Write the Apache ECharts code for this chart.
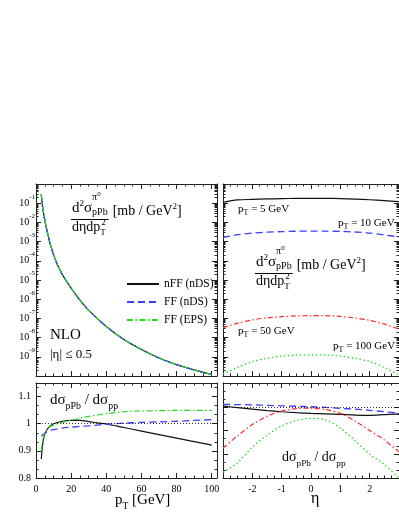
<!DOCTYPE html>
<html>
<head>
<meta charset="utf-8">
<script src="https://cdn.jsdelivr.net/npm/echarts@6/dist/echarts.min.js"></script>
<style>
  html, body { margin: 0; padding: 0; background: #fff; }
  #chart { width: 399px; height: 516px; }
</style>
</head>
<body>
<div id="chart"></div>
<script>
// pT spectrum at |eta| <= 0.5 (the three calculations coincide on this scale)
var ptSpec = [3, 3.5, 4, 5, 6, 7, 8, 10, 12, 15, 20, 25, 30, 40, 50, 60, 70, 80, 90, 100];
var sigmaPt = [2.82e-1, 1.0e-1, 4.47e-2, 1.32e-2, 4.68e-3, 1.91e-3, 7.94e-4, 2.09e-4, 6.76e-5, 1.91e-5,
  3.72e-6, 8.91e-7, 2.63e-7, 3.80e-8, 7.94e-9, 2.40e-9, 8.71e-10, 3.89e-10, 2.09e-10, 1.20e-10];

// ratio pPb / pp versus pT
var ptRatio = [3, 4, 5, 7, 10, 15, 20, 25, 30, 35, 40, 50, 60, 70, 80, 90, 100];
var ratioNFF = [0.87, 0.935, 0.962, 0.985, 1.0, 1.009, 1.012, 1.012, 1.008, 1.003, 0.999, 0.986, 0.973, 0.96, 0.947, 0.934, 0.921];
var ratioFFnDS = [0.955, 0.96, 0.965, 0.972, 0.978, 0.984, 0.987, 0.99, 0.992, 0.995, 0.998, 1.002, 1.005, 1.007, 1.009, 1.012, 1.015];
var ratioFFEPS = [0.9, 0.945, 0.965, 0.985, 0.995, 1.005, 1.013, 1.02, 1.027, 1.032, 1.037, 1.044, 1.047, 1.048, 1.049, 1.049, 1.049];

// eta distributions for fixed pT
var etaVals = [-3, -2.5, -2, -1.5, -1, -0.5, 0, 0.5, 1, 1.5, 2, 2.5, 3];
var sigmaEta5 = [0.110, 0.148, 0.158, 0.166, 0.172, 0.178, 0.180, 0.178, 0.174, 0.164, 0.151, 0.136, 0.120];
var sigmaEta10 = [1.66e-3, 2.29e-3, 2.75e-3, 3.09e-3, 3.31e-3, 3.47e-3, 3.55e-3, 3.51e-3, 3.39e-3, 3.16e-3, 2.75e-3, 2.24e-3, 1.74e-3];
var sigmaEta50 = [3.31e-8, 5.62e-8, 8.32e-8, 1.07e-7, 1.23e-7, 1.35e-7, 1.38e-7, 1.38e-7, 1.26e-7, 1.05e-7, 7.94e-8, 5.01e-8, 2.82e-8];
var sigmaEta100 = [1.23e-10, 2.82e-10, 5.62e-10, 8.32e-10, 1.07e-9, 1.23e-9, 1.26e-9, 1.23e-9, 1.10e-9, 8.32e-10, 5.62e-10, 2.82e-10, 1.12e-10];

var ratioEta5 = [1.003, 0.996, 0.99, 0.984, 0.979, 0.975, 0.972, 0.97, 0.968, 0.965, 0.964, 0.967, 0.97];
var ratioEta10 = [1.01, 1.009, 1.008, 1.006, 1.004, 1.002, 1.0, 0.997, 0.993, 0.99, 0.985, 0.979, 0.973];
var ratioEta50 = [0.826, 0.878, 0.925, 0.96, 0.982, 0.992, 0.994, 0.988, 0.972, 0.94, 0.9, 0.86, 0.81];
var ratioEta100 = [0.724, 0.765, 0.83, 0.88, 0.919, 0.942, 0.951, 0.945, 0.91, 0.857, 0.8, 0.757, 0.7];

// tick labels
var ptLabels = [0, 20, 40, 60, 80, 100];
var etaLabels = [-2, -1, 0, 1, 2];
var ratioLabels = [0.8, 0.9, 1, 1.1];
var decadeLabels = [-1, -2, -3, -4, -5, -6, -7, -8, -9];

var FONT = '"Liberation Serif", "Times New Roman", serif';
var INK = '#222';

function steps(a, b, step, skip) {
  var out = [];
  for (var v = a; v <= b + 1e-9; v += step) {
    var r = Math.round(v * 1e6) / 1e6;
    if (skip && Math.abs(r / skip - Math.round(r / skip)) < 1e-6) continue;
    out.push(r);
  }
  return out;
}
var logMajor = [], logMinor = [];
for (var e = -10; e <= 0; e++) {
  logMajor.push(Math.pow(10, e));
  if (e < 0) for (var m = 2; m <= 9; m++) logMinor.push(m * Math.pow(10, e));
}

// one panel side = a framed axis with long ticks + a bare axis with short ticks, mirrored
function axes(dim, grid, base, major, minor, label) {
  var sides = dim === 'x' ? ['bottom', 'top'] : ['left', 'right'];
  var out = [];
  sides.forEach(function (side, k) {
    out.push(Object.assign({}, base, {
      gridIndex: grid, position: side,
      axisLine: { show: true, onZero: false, lineStyle: { color: INK, width: 1 } },
      axisTick: { show: true, inside: true, length: 5, customValues: major, lineStyle: { color: INK, width: 1 } },
      axisLabel: (k === 0 && label) ? label : { show: false },
      splitLine: { show: false }
    }));
    out.push(Object.assign({}, base, {
      gridIndex: grid, position: side,
      axisLine: { show: false, onZero: false },
      axisTick: { show: true, inside: true, length: 2.5, customValues: minor, lineStyle: { color: INK, width: 1 } },
      axisLabel: { show: false },
      splitLine: { show: false }
    }));
  });
  return out;
}

var ptBase = { type: 'value', min: 0, max: 103 };
var etaBase = { type: 'value', min: -3, max: 3 };
var logBase = { type: 'log', logBase: 10, min: 1e-10, max: 1 };
var ptMajor = steps(0, 100, 20), ptMinor = steps(0, 100, 5, 20);
var etaMajor = steps(-3, 3, 1), etaMinor = steps(-3, 3, 0.25, 1);

var numLabel = function (vals) {
  return { show: true, customValues: vals, color: '#000', fontFamily: FONT, fontSize: 10, margin: 6 };
};

var xAxes = [].concat(
  axes('x', 0, ptBase, ptMajor, ptMinor, null),
  axes('x', 1, etaBase, etaMajor, etaMinor, null),
  axes('x', 2, ptBase, ptMajor, ptMinor, numLabel(ptLabels)),
  axes('x', 3, etaBase, etaMajor, etaMinor, numLabel(etaLabels))
);
var yAxes = [].concat(
  axes('y', 0, logBase, logMajor, logMinor, {
    show: true, margin: 1,
    customValues: decadeLabels.map(function (d) { return Math.pow(10, d); }),
    formatter: function (v) { return '{b|10}{e|' + Math.round(Math.log10(v)) + '}'; },
    rich: {
      b: { fontFamily: FONT, fontSize: 10, color: '#000', lineHeight: 20 },
      e: { fontFamily: FONT, fontSize: 7, color: '#000', lineHeight: 8, verticalAlign: 'top' }
    }
  }),
  axes('y', 1, logBase, logMajor, logMinor, null),
  axes('y', 2, { type: 'value', min: 0.8, max: 1.15 }, steps(0.8, 1.1, 0.1),
    [0.8333, 0.8667, 0.9333, 0.9667, 1.0333, 1.0667, 1.1333],
    Object.assign(numLabel(ratioLabels), { margin: 5 })),
  axes('y', 3, { type: 'value', min: 0.7, max: 1.1 }, steps(0.7, 1.1, 0.1),
    [0.7333, 0.7667, 0.8333, 0.8667, 0.9333, 0.9667, 1.0333, 1.0667], null)
);

var black = { color: '#111', width: 1.2, type: 'solid' };
var blue = { color: '#3c3cff', width: 1.3, type: [7, 4] };
var greenDD = { color: '#22dd22', width: 1.2, type: [6, 2.5, 1.5, 2.5] };
var red = { color: '#ff2a2a', width: 1.2, type: [5, 2.5, 1.5, 2.5] };
var greenDot = { color: '#22dd22', width: 1.3, type: [1.5, 2.5] };

function curve(name, panel, xs, ys, style) {
  return {
    name: name, type: 'line', xAxisIndex: panel * 4, yAxisIndex: panel * 4,
    data: xs.map(function (x, i) { return [x, ys[i]]; }),
    symbol: 'none', smooth: 0.3, silent: true,
    lineStyle: style, itemStyle: { color: style.color }
  };
}
var unity = {
  silent: true, symbol: 'none', label: { show: false },
  lineStyle: { color: '#000', type: [1, 2], width: 0.8 }, data: [{ yAxis: 1 }]
};

var series = [
  curve('nFF (nDS)', 0, ptSpec, sigmaPt, black),
  curve('FF (nDS)', 0, ptSpec, sigmaPt, blue),
  curve('FF (EPS)', 0, ptSpec, sigmaPt, greenDD),
  curve('pT 5', 1, etaVals, sigmaEta5, black),
  curve('pT 10', 1, etaVals, sigmaEta10, blue),
  curve('pT 50', 1, etaVals, sigmaEta50, red),
  curve('pT 100', 1, etaVals, sigmaEta100, greenDot),
  Object.assign(curve('nFF (nDS)', 2, ptRatio, ratioNFF, black), { markLine: unity }),
  curve('FF (nDS)', 2, ptRatio, ratioFFnDS, blue),
  curve('FF (EPS)', 2, ptRatio, ratioFFEPS, greenDD),
  Object.assign(curve('r5', 3, etaVals, ratioEta5, black), { markLine: unity }),
  curve('r10', 3, etaVals, ratioEta10, blue),
  curve('r50', 3, etaVals, ratioEta50, red),
  curve('r100', 3, etaVals, ratioEta100, greenDot)
];

// text with sub/superscripts, laid out by measured widths
var mctx = document.createElement('canvas').getContext('2d');
function tw(s, size) { mctx.font = size + 'px ' + FONT; return mctx.measureText(s).width; }
function txt(x, base, s, size) {
  return {
    type: 'text', x: x, y: base - 0.34 * size, silent: true,
    style: { text: s, fontSize: size, fontFamily: FONT, fill: '#000', verticalAlign: 'middle', align: 'left' }
  };
}
function flow(x, base, segs) {
  var out = [], pen = x;
  segs.forEach(function (s) {
    out.push(txt(pen, base + (s[2] || 0), s[0], s[1]));
    pen += tw(s[0], s[1]);
  });
  return out;
}
function formula(x0, yb) {
  var out = [], p = x0;
  out.push(txt(p, yb, 'd', 15)); p += tw('d', 15);
  out.push(txt(p, yb - 6, '2', 9)); p += tw('2', 9);
  out.push(txt(p, yb, 'σ', 15)); p += tw('σ', 15);
  out.push(txt(p, yb - 12, 'π', 10));
  out.push(txt(p + tw('π', 10), yb - 16, '0', 7));
  out.push(txt(p, yb + 3, 'pPb', 10));
  var end = p + tw('pPb', 10);
  out.push({ type: 'line', silent: true, shape: { x1: x0 - 1, y1: yb + 6.5, x2: end + 1, y2: yb + 6.5 },
    style: { stroke: '#000', lineWidth: 1 } });
  var db = yb + 19;
  p = x0;
  out.push(txt(p, db, 'dηdp', 14)); p += tw('dηdp', 14);
  out.push(txt(p, db + 4, 'T', 9));
  out.push(txt(p + 1, db - 6, '2', 9));
  return out.concat(flow(end + 5, yb + 3.5, [['[mb / GeV', 14], ['2', 9, -7], [']', 14]]));
}
function ptTag(x, base, rest) {
  return flow(x, base, [['p', 11], ['T', 8, 3], [rest, 11]]);
}
function ratioTag(x, base, size) {
  var s = size * 0.66;
  return flow(x, base, [['dσ', size], ['pPb', s, 4], [' / dσ', size], ['pp', s, 4]]);
}

var graphics = [].concat(
  formula(72, 213),
  formula(256, 267),
  [txt(50, 340, 'NLO', 15), txt(50, 358.5, '|η| ≤ 0.5', 13)],
  ptTag(238, 213, ' = 5 GeV'),
  ptTag(338, 226.5, ' = 10 GeV'),
  ptTag(238, 335, ' = 50 GeV'),
  ptTag(333, 349.5, ' = 100 GeV'),
  ratioTag(50, 405.5, 15),
  ratioTag(282, 462.5, 14),
  flow(115, 505.5, [['p', 15], ['T', 9.5, 4], [' [GeV]', 15]]),
  [txt(311, 504.5, 'η', 16)]
);

var chart = echarts.init(document.getElementById('chart'));
chart.setOption({
  animation: false,
  backgroundColor: '#fff',
  grid: [
    { left: 36, top: 184, width: 181, height: 192 },
    { left: 223, top: 184, width: 183, height: 192 },
    { left: 36, top: 383, width: 181, height: 95 },
    { left: 223, top: 383, width: 183, height: 95 }
  ],
  legend: {
    data: ['nFF (nDS)', 'FF (nDS)', 'FF (EPS)'],
    orient: 'vertical', left: 121, top: 273,
    itemWidth: 32, itemHeight: 14, itemGap: 6, selectedMode: false,
    itemStyle: { opacity: 0, color: 'rgba(0,0,0,0)', borderWidth: 0 },
    textStyle: { fontFamily: FONT, fontSize: 11.5, color: '#000' }
  },
  xAxis: xAxes,
  yAxis: yAxes,
  series: series,
  graphic: graphics
});
</script>
</body>
</html>
